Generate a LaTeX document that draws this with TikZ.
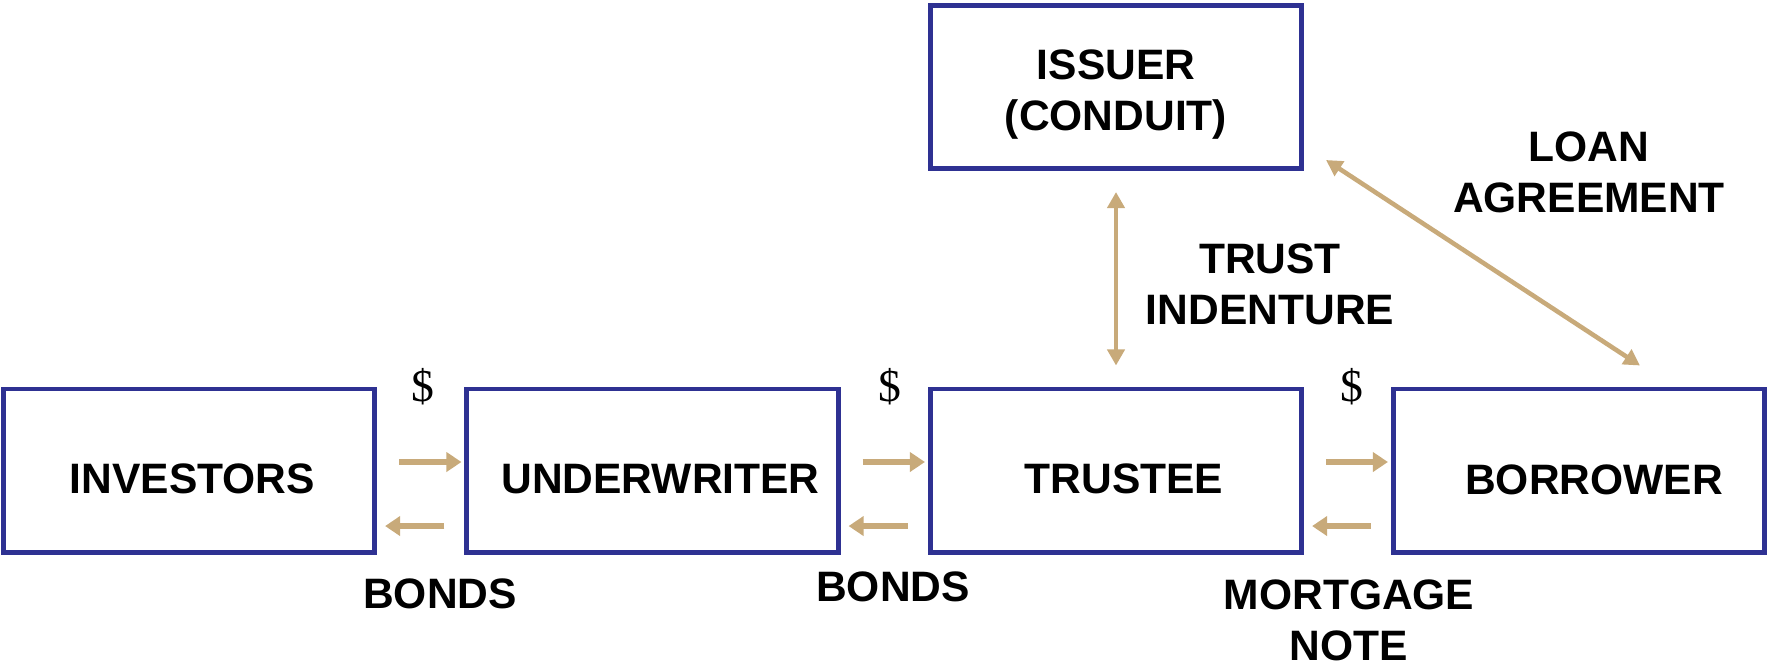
\documentclass[tikz,border=0pt]{standalone}
\usepackage{fontspec}
\setmainfont{Liberation Sans}
\newfontfamily\serifdollar{Liberation Serif}
\usetikzlibrary{arrows.meta}
\definecolor{navy}{RGB}{46,49,146}
\definecolor{tan}{RGB}{200,170,122}
\tikzset{
  box/.style={draw=navy, line width=1.4pt, minimum width=3.71cm, minimum height=1.63cm, inner sep=0pt},
  lbl/.style={align=center, inner sep=0pt, font=\fontsize{12.1}{14.5}\selectfont\bfseries},
  dol/.style={inner sep=0pt, font=\fontsize{13}{15}\selectfont\serifdollar},
  harr/.style={draw=tan, line width=1.6pt, -{Triangle[length=0.15cm,width=0.19cm]}},
  darr/.style={draw=tan, line width=1.3pt, {Triangle[length=0.16cm,width=0.17cm]}-{Triangle[length=0.16cm,width=0.17cm]}}
}
\begin{document}
\begin{tikzpicture}[x=0.01cm,y=-0.01cm]
\useasboundingbox (0,0) rectangle (1767,663);
\node[box, label={[lbl, xshift=0.034cm, yshift=-0.08cm]center:INVESTORS}] (inv) at (189,470.5) {};
\node[box, label={[lbl, xshift=0.08cm, yshift=-0.09cm]center:UNDERWRITER}] (uw) at (652.5,470.5) {};
\node[box, label={[lbl, xshift=0.08cm, yshift=-0.08cm]center:TRUSTEE}] (tr) at (1116,470.5) {};
\node[box, label={[lbl, xshift=0.15cm, yshift=-0.09cm]center:BORROWER}] (bo) at (1579,470.5) {};
\node[box, label={[lbl, yshift=-0.08cm]center:ISSUER\\(CONDUIT)}] (is) at (1116,87) {};
% horizontal arrows
\draw[harr, shorten <=0.22cm, shorten >=0.03cm] ([yshift=0.085cm]inv.east) -- ([yshift=0.085cm]uw.west);
\draw[harr, shorten <=0.2cm, shorten >=0.08cm] ([yshift=-0.555cm]uw.west) -- ([yshift=-0.555cm]inv.east);
\draw[harr, shorten <=0.22cm, shorten >=0.03cm] ([yshift=0.085cm]uw.east) -- ([yshift=0.085cm]tr.west);
\draw[harr, shorten <=0.2cm, shorten >=0.08cm] ([yshift=-0.555cm]tr.west) -- ([yshift=-0.555cm]uw.east);
\draw[harr, shorten <=0.22cm, shorten >=0.03cm] ([yshift=0.085cm]tr.east) -- ([yshift=0.085cm]bo.west);
\draw[harr, shorten <=0.2cm, shorten >=0.08cm] ([yshift=-0.555cm]bo.west) -- ([yshift=-0.555cm]tr.east);
% vertical and diagonal
\draw[darr, shorten <=0.21cm, shorten >=0.21cm] (is.south) -- (tr.north);
\draw[darr] ([shift={(22,-11)}]is.south east) -- ([shift={(249,-21)}]bo.north west);
% labels
\node[dol] (d1) at (423,387) {\$};
\node[dol] (d2) at (890,387) {\$};
\node[dol] (d3) at (1352,387) {\$};
\node[lbl] (b1) at (440,594) {BONDS};
\node[lbl] (b2) at (893,587) {BONDS};
\node[lbl] (mn) at (1349,620) {MORTGAGE\\NOTE};
\node[lbl] (ti) at (1270,284) {TRUST\\INDENTURE};
\node[lbl] (la) at (1589,172) {LOAN\\AGREEMENT};
\end{tikzpicture}
\end{document}
